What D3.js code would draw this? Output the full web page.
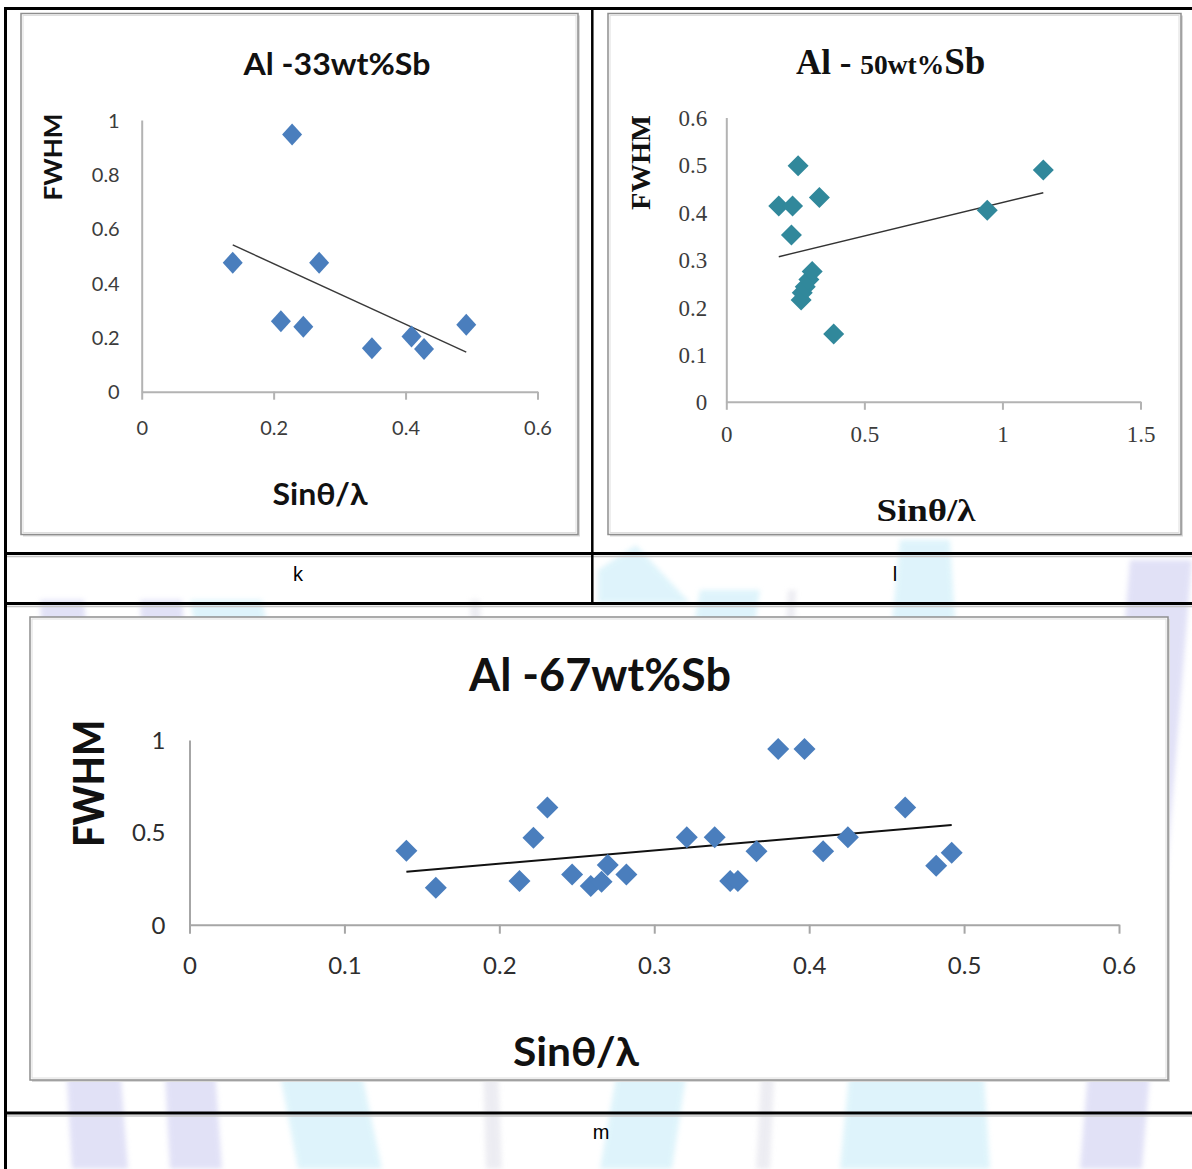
<!DOCTYPE html>
<html>
<head>
<meta charset="utf-8">
<script src="https://cdn.jsdelivr.net/npm/d3@7"></script>
<style>
  html, body { margin: 0; padding: 0; background: #ffffff; }
  svg { display: block; }
</style>
</head>
<body>
<svg id="page" width="1192" height="1169"></svg>
<script>
// ---- Al-33wt%Sb (panel k) ----
const kSin  = [0.138, 0.211, 0.228, 0.245, 0.269, 0.349, 0.409, 0.428, 0.492];
const kFwhm = [0.475, 0.259, 0.947, 0.239, 0.475, 0.160, 0.203, 0.157, 0.246];
const kXTicks = ["0", "0.2", "0.4", "0.6"];
const kYTicks = ["0", "0.2", "0.4", "0.6", "0.8", "1"];

// ---- Al-50wt%Sb (panel l) ----
const lSin  = [0.190, 0.236, 0.240, 0.260, 0.271, 0.275, 0.286, 0.299, 0.311, 0.337, 0.389, 0.945, 1.148];
const lFwhm = [0.413, 0.352, 0.413, 0.498, 0.215, 0.230, 0.243, 0.258, 0.275, 0.431, 0.143, 0.404, 0.489];
const lXTicks = ["0", "0.5", "1", "1.5"];
const lYTicks = ["0", "0.1", "0.2", "0.3", "0.4", "0.5", "0.6"];

// ---- Al-67wt%Sb (panel m) ----
const mSin  = [0.140, 0.159, 0.213, 0.222, 0.231, 0.247, 0.259, 0.266, 0.270, 0.282, 0.321,
               0.339, 0.349, 0.354, 0.366, 0.380, 0.397, 0.409, 0.425, 0.462, 0.482, 0.492];
const mFwhm = [0.400, 0.200, 0.236, 0.471, 0.635, 0.272, 0.210, 0.232, 0.323, 0.272, 0.473,
               0.473, 0.236, 0.236, 0.398, 0.951, 0.951, 0.398, 0.473, 0.635, 0.319, 0.389];
const mXTicks = ["0", "0.1", "0.2", "0.3", "0.4", "0.5", "0.6"];
const mYTicks = ["0", "0.5", "1"];

const panelLetters = ["k", "l", "m"];

const svg = d3.select("#page");

// ---------- faint logo watermark behind the table ----------
const defs = svg.append("defs");
defs.append("filter").attr("id", "soft")
  .attr("x", "-20%").attr("y", "-20%").attr("width", "140%").attr("height", "140%")
  .append("feGaussianBlur").attr("stdDeviation", 2.5);

const wm = svg.append("g").attr("class", "watermark")
  .attr("filter", "url(#soft)").attr("opacity", 0.55);
const wmShapes = [
  { c: "#c9c9f0", p: [[40, 600], [84, 600], [128, 1169], [72, 1169]] },
  { c: "#c9c9f0", p: [[140, 600], [182, 600], [222, 1169], [170, 1169]] },
  { c: "#c4ebf8", p: [[190, 600], [262, 600], [382, 1169], [298, 1169]] },
  { c: "#dedee8", p: [[470, 600], [480, 600], [502, 1169], [486, 1169]] },
  { c: "#c4ebf8", p: [[700, 590], [760, 590], [672, 1169], [600, 1169]] },
  { c: "#dedee8", p: [[788, 590], [796, 590], [770, 1169], [756, 1169]] },
  { c: "#c4ebf8", p: [[900, 540], [950, 540], [990, 1169], [840, 1169]] },
  { c: "#c9c9f0", p: [[1130, 560], [1192, 560], [1142, 1169], [1080, 1169]] },
  { c: "#c4ebf8", p: [[598, 570], [636, 545], [690, 603], [598, 603]] }
];
wm.selectAll("path").data(wmShapes).join("path")
  .attr("d", d => "M" + d.p.map(q => q.join(",")).join("L") + "Z")
  .attr("fill", d => d.c);

// ---------- table rules ----------
const rules = svg.append("g").attr("class", "table");
const hRules = [8.5, 553.5, 603.5, 1113];
rules.selectAll("line.h").data(hRules).join("line")
  .attr("class", "h")
  .attr("x1", 4).attr("x2", 1192).attr("y1", d => d).attr("y2", d => d)
  .attr("stroke", "#000").attr("stroke-width", 3);
rules.selectAll("line.hs").data(hRules.slice(1)).join("line")
  .attr("class", "hs")
  .attr("x1", 7).attr("x2", 1192).attr("y1", d => d + 3).attr("y2", d => d + 3)
  .attr("stroke", "#c4c4c4").attr("stroke-width", 1.5);
rules.append("line").attr("x1", 5.5).attr("x2", 5.5).attr("y1", 7).attr("y2", 1169)
  .attr("stroke", "#000").attr("stroke-width", 3);
rules.append("line").attr("x1", 592.3).attr("x2", 592.3).attr("y1", 7).attr("y2", 605)
  .attr("stroke", "#000").attr("stroke-width", 2.5);

// panel letters under each chart
const letterPos = [[298, 574], [895, 574], [601, 1132]];
svg.selectAll("text.letter").data(panelLetters).join("text")
  .attr("class", "letter")
  .attr("x", (d, i) => letterPos[i][0]).attr("y", (d, i) => letterPos[i][1])
  .attr("text-anchor", "middle").attr("dominant-baseline", "central")
  .attr("font-family", "'Liberation Sans', Arial, sans-serif").attr("font-size", 20)
  .attr("fill", "#000").text(d => d);

// ---------- helpers ----------
function frame(x, y, w, h) {
  const g = svg.append("g");
  g.append("rect").attr("x", x + 2).attr("y", y + 2).attr("width", w).attr("height", h)
    .attr("fill", "#d9d9d9");
  g.append("rect").attr("x", x).attr("y", y).attr("width", w).attr("height", h)
    .attr("fill", "#ffffff").attr("stroke", "#8e8e8e").attr("stroke-width", 1.5);
  g.append("rect").attr("x", x + 2).attr("y", y + 2).attr("width", w - 4).attr("height", h - 4)
    .attr("fill", "none").attr("stroke", "#dedede").attr("stroke-width", 1);
}

function diamondPath(r, ry) {
  return `M0,${-ry}L${r},0L0,${ry}L${-r},0Z`;
}

function regression(xs, ys) {
  const n = xs.length;
  const mx = d3.mean(xs), my = d3.mean(ys);
  let sxy = 0, sxx = 0;
  for (let i = 0; i < n; i++) {
    sxy += (xs[i] - mx) * (ys[i] - my);
    sxx += (xs[i] - mx) * (xs[i] - mx);
  }
  const b = sxy / sxx;
  return { slope: b, intercept: my - b * mx };
}

function drawPanel(cfg) {
  const g = svg.append("g");
  const x = d3.scaleLinear().domain(cfg.xDomain).range(cfg.xRange);
  const y = d3.scaleLinear().domain(cfg.yDomain).range(cfg.yRange);

  // x axis
  const xa = g.append("g").attr("transform", `translate(0,${cfg.yRange[0]})`)
    .call(d3.axisBottom(x).tickValues(cfg.xTicks.map(Number))
      .tickFormat((d, i) => cfg.xTicks[i]).tickSize(cfg.tickLen).tickSizeOuter(0));
  // y axis
  const ya = g.append("g").attr("transform", `translate(${cfg.xRange[0]},0)`)
    .call(d3.axisLeft(y).tickValues(cfg.yTicks.map(Number))
      .tickFormat((d, i) => cfg.yTicks[i]).tickSize(0).tickSizeOuter(0));

  [xa, ya].forEach(a => {
    a.select(".domain").attr("stroke", cfg.axisColor).attr("stroke-width", 2);
    a.selectAll(".tick line").attr("stroke", cfg.axisColor).attr("stroke-width", 2);
    a.selectAll("text")
      .attr("font-family", cfg.tickFont).attr("font-size", cfg.tickSize)
      .attr("fill", cfg.tickColor);
  });
  xa.selectAll("text").attr("y", cfg.xLabelOffset).attr("dy", "0.35em");
  ya.selectAll("text").attr("x", -cfg.yLabelOffset).attr("dy", "0.35em");

  // least-squares trend line across the data range
  const fit = regression(cfg.xs, cfg.ys);
  const x0 = d3.min(cfg.xs), x1 = d3.max(cfg.xs);
  g.append("line")
    .attr("x1", x(x0)).attr("y1", y(fit.intercept + fit.slope * x0))
    .attr("x2", x(x1)).attr("y2", y(fit.intercept + fit.slope * x1))
    .attr("stroke", cfg.trendColor).attr("stroke-width", cfg.trendWidth);

  // markers
  const pts = cfg.xs.map((v, i) => [v, cfg.ys[i]]);
  g.selectAll("path.pt").data(pts).join("path")
    .attr("class", "pt")
    .attr("d", diamondPath(cfg.marker[0], cfg.marker[1]))
    .attr("transform", d => `translate(${x(d[0])},${y(d[1])})`)
    .attr("fill", cfg.markerColor);
  return { x, y };
}

// ---------- panel k ----------
frame(21, 13.5, 557, 521);
drawPanel({
  xs: kSin, ys: kFwhm, xDomain: [0, 0.6], yDomain: [0, 1],
  xRange: [141.7, 537.5], yRange: [391.7, 120],
  xTicks: kXTicks, yTicks: kYTicks, tickLen: 8,
  axisColor: "#b3b3b3", tickFont: "Lato, 'Open Sans', sans-serif", tickSize: 20, tickColor: "#3c3c3c",
  xLabelOffset: 36, yLabelOffset: 22,
  trendColor: "#3a3a3a", trendWidth: 1.4,
  marker: [10, 11], markerColor: "#4a7ebd"
});
svg.append("text").attr("x", 337).attr("y", 75).attr("text-anchor", "middle")
  .attr("font-family", "Lato, sans-serif").attr("font-weight", 700).attr("font-size", 30)
  .attr("textLength", 187).attr("lengthAdjust", "spacingAndGlyphs")
  .attr("fill", "#111").text("Al -33wt%Sb");
svg.append("text").attr("transform", "translate(52,157) rotate(-90)")
  .attr("text-anchor", "middle").attr("dominant-baseline", "central")
  .attr("font-family", "Lato, sans-serif").attr("font-weight", 700).attr("font-size", 25)
  .attr("textLength", 87).attr("lengthAdjust", "spacingAndGlyphs")
  .attr("fill", "#111").text("FWHM");
svg.append("text").attr("x", 320).attr("y", 505).attr("text-anchor", "middle")
  .attr("font-family", "Lato, sans-serif").attr("font-weight", 700).attr("font-size", 30)
  .attr("textLength", 95).attr("lengthAdjust", "spacingAndGlyphs")
  .attr("fill", "#111").text("Sinθ/λ");

// ---------- panel l ----------
frame(608, 13.5, 573, 521);
drawPanel({
  xs: lSin, ys: lFwhm, xDomain: [0, 1.5], yDomain: [0, 0.6],
  xRange: [726.3, 1140.5], yRange: [401.8, 117.5],
  xTicks: lXTicks, yTicks: lYTicks, tickLen: 8,
  axisColor: "#b3b3b3", tickFont: "'Liberation Serif', 'Times New Roman', serif", tickSize: 23, tickColor: "#3c3c3c",
  xLabelOffset: 32, yLabelOffset: 19,
  trendColor: "#333333", trendWidth: 1.4,
  marker: [10.5, 10.5], markerColor: "#31889b"
});
const lTitle = svg.append("text").attr("x", 796).attr("y", 74).attr("text-anchor", "start")
  .attr("font-family", "'Liberation Serif', 'Times New Roman', serif").attr("font-weight", 700)
  .attr("fill", "#111");
lTitle.append("tspan").attr("font-size", 35).text("Al - ");
lTitle.append("tspan").attr("font-size", 27.5).text("50wt%");
lTitle.append("tspan").attr("font-size", 37).text("Sb");
svg.append("text").attr("transform", "translate(640.5,162.5) rotate(-90)")
  .attr("text-anchor", "middle").attr("dominant-baseline", "central")
  .attr("font-family", "'Liberation Serif', 'Times New Roman', serif").attr("font-weight", 700)
  .attr("font-size", 27).attr("textLength", 95).attr("lengthAdjust", "spacingAndGlyphs")
  .attr("fill", "#111").text("FWHM");
svg.append("text").attr("x", 926).attr("y", 521).attr("text-anchor", "middle")
  .attr("font-family", "'Liberation Serif', 'Times New Roman', serif").attr("font-weight", 700)
  .attr("font-size", 32).attr("textLength", 99).attr("lengthAdjust", "spacingAndGlyphs")
  .attr("fill", "#111").text("Sinθ/λ");

// ---------- panel m ----------
frame(30, 617, 1138, 463);
drawPanel({
  xs: mSin, ys: mFwhm, xDomain: [0, 0.6], yDomain: [0, 1],
  xRange: [189.5, 1119], yRange: [924.7, 740],
  xTicks: mXTicks, yTicks: mYTicks, tickLen: 9,
  axisColor: "#a6a6a6", tickFont: "Lato, 'Open Sans', sans-serif", tickSize: 24, tickColor: "#2e2e2e",
  xLabelOffset: 41, yLabelOffset: 24,
  trendColor: "#111111", trendWidth: 2,
  marker: [11, 11], markerColor: "#4a7ebd"
});
svg.append("text").attr("x", 600).attr("y", 691).attr("text-anchor", "middle")
  .attr("font-family", "Lato, sans-serif").attr("font-weight", 700).attr("font-size", 45)
  .attr("textLength", 262).attr("lengthAdjust", "spacingAndGlyphs")
  .attr("fill", "#111").text("Al -67wt%Sb");
svg.append("text").attr("transform", "translate(88,783.5) rotate(-90)")
  .attr("text-anchor", "middle").attr("dominant-baseline", "central")
  .attr("font-family", "Lato, sans-serif").attr("font-weight", 900).attr("font-size", 42)
  .attr("textLength", 127).attr("lengthAdjust", "spacingAndGlyphs")
  .attr("fill", "#111").text("FWHM");
svg.append("text").attr("x", 576).attr("y", 1066).attr("text-anchor", "middle")
  .attr("font-family", "Lato, sans-serif").attr("font-weight", 700).attr("font-size", 40)
  .attr("textLength", 126).attr("lengthAdjust", "spacingAndGlyphs")
  .attr("fill", "#111").text("Sinθ/λ");
</script>
</body>
</html>
